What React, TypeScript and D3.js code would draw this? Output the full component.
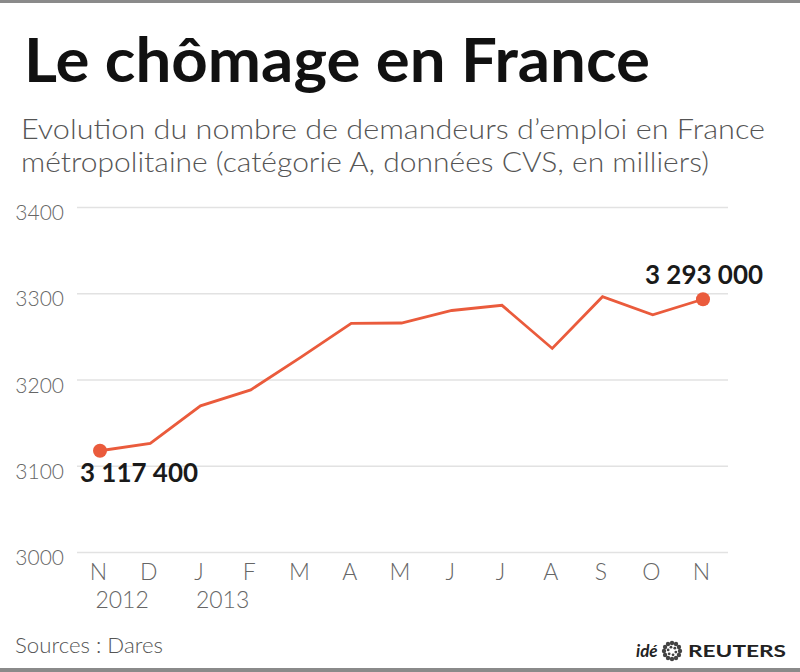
import React, { useEffect, useRef } from 'react';
import * as d3 from 'd3';

// Demandeurs d'emploi, catégorie A, France métropolitaine (milliers, CVS)
const periods = ['2012-11', '2012-12', '2013-01', '2013-02', '2013-03', '2013-04', '2013-05',
    '2013-06', '2013-07', '2013-08', '2013-09', '2013-10', '2013-11'];
const monthLabels = ['N', 'D', 'J', 'F', 'M', 'A', 'M', 'J', 'J', 'A', 'S', 'O', 'N'];
const values = [3117.4, 3126, 3169.5, 3188, 3226, 3265, 3265.5, 3280, 3286, 3236, 3296, 3275, 3293];
const yTicks = [3000, 3100, 3200, 3300, 3400];
const yearLabels = [
    { label: '2012', from: '2012-11', to: '2012-12' },
    { label: '2013', from: '2013-01', to: '2013-02' },
];
const firstLabel = '3 117 400';
const lastLabel = '3 293 000';

const font = "Lato, 'Open Sans', sans-serif";
const orange = '#ea5b3c';

const App: React.FC = () => {
    const svgRef = useRef<SVGSVGElement>(null);
    const width = 800;
    const height = 672;

    useEffect(() => {
        if (!svgRef.current) return;
        const svg = d3.select(svgRef.current);
        svg.selectAll('*').remove();

        const gridLeft = 77;
        const gridRight = 728;

        const x = d3.scalePoint<string>()
            .domain(periods)
            .range([100, 703]);

        const y = d3.scaleLinear()
            .domain([3000, 3400])
            .range([552, 207]);

        // frame lines
        svg.append('rect').attr('x', 0).attr('y', 0).attr('width', width).attr('height', 3).attr('fill', '#8a8a8a');
        svg.append('rect').attr('x', 0).attr('y', 668).attr('width', width).attr('height', 4).attr('fill', '#8a8a8a');

        // title & subtitle
        svg.append('text')
            .attr('x', 24).attr('y', 82)
            .attr('font-family', font).attr('font-weight', 700).attr('font-size', 62)
            .attr('fill', '#111')
            .attr('textLength', 626).attr('lengthAdjust', 'spacingAndGlyphs')
            .text('Le chômage en France');

        svg.append('text')
            .attr('x', 21).attr('y', 139)
            .attr('font-family', font).attr('font-weight', 300).attr('font-size', 28)
            .attr('fill', '#555')
            .attr('textLength', 744).attr('lengthAdjust', 'spacingAndGlyphs')
            .text('Evolution du nombre de demandeurs d’emploi en France');

        svg.append('text')
            .attr('x', 21).attr('y', 172)
            .attr('font-family', font).attr('font-weight', 300).attr('font-size', 28)
            .attr('fill', '#555')
            .attr('textLength', 688).attr('lengthAdjust', 'spacingAndGlyphs')
            .text('métropolitaine (catégorie A, données CVS, en milliers)');

        // y grid + labels
        const yAxis = svg.append('g')
            .attr('transform', `translate(${gridLeft},0)`)
            .call(d3.axisLeft(y)
                .tickValues(yTicks)
                .tickSize(-(gridRight - gridLeft))
                .tickPadding(13)
                .tickFormat(d3.format('d')));
        yAxis.select('.domain').remove();
        yAxis.selectAll('.tick line').attr('stroke', '#e2e2e2').attr('stroke-width', 1.5);
        yAxis.selectAll('.tick text')
            .attr('font-family', font).attr('font-weight', 300).attr('font-size', 21)
            .attr('fill', '#666')
            .attr('dy', '0.6em');

        // x labels
        const xAxis = svg.append('g')
            .attr('transform', `translate(0,${y(3000)})`)
            .call(d3.axisBottom(x)
                .tickSize(0)
                .tickFormat((d, i) => monthLabels[i]));
        xAxis.select('.domain').remove();
        xAxis.selectAll('.tick text')
            .attr('font-family', font).attr('font-weight', 300).attr('font-size', 23)
            .attr('fill', '#666')
            .attr('y', 28).attr('dy', 0).attr('dx', -2);

        svg.append('g').selectAll('text')
            .data(yearLabels)
            .join('text')
            .attr('x', d => ((x(d.from) ?? 0) + (x(d.to) ?? 0)) / 2 - 3)
            .attr('y', 608)
            .attr('text-anchor', 'middle')
            .attr('font-family', font).attr('font-weight', 300).attr('font-size', 23)
            .attr('fill', '#666')
            .text(d => d.label);

        // line
        const line = d3.line<number>()
            .x((d, i) => x(periods[i]) ?? 0)
            .y(d => y(d));

        svg.append('path')
            .datum(values)
            .attr('fill', 'none')
            .attr('stroke', orange)
            .attr('stroke-width', 2.8)
            .attr('stroke-linejoin', 'miter')
            .attr('d', line);

        const ends = [0, values.length - 1];
        svg.append('g').selectAll('circle')
            .data(ends)
            .join('circle')
            .attr('cx', i => x(periods[i]) ?? 0)
            .attr('cy', i => y(values[i]))
            .attr('r', 7)
            .attr('fill', orange);

        svg.append('text')
            .attr('x', (x(periods[0]) ?? 0) - 20)
            .attr('y', y(values[0]) + 31)
            .attr('font-family', font).attr('font-weight', 700).attr('font-size', 26)
            .attr('fill', '#1a1a1a')
            .attr('textLength', 118).attr('lengthAdjust', 'spacingAndGlyphs')
            .text(firstLabel);

        svg.append('text')
            .attr('x', (x(periods[periods.length - 1]) ?? 0) - 58)
            .attr('y', y(values[values.length - 1]) - 15)
            .attr('font-family', font).attr('font-weight', 700).attr('font-size', 26)
            .attr('fill', '#1a1a1a')
            .attr('textLength', 118).attr('lengthAdjust', 'spacingAndGlyphs')
            .text(lastLabel);

        // footer
        svg.append('text')
            .attr('x', 15).attr('y', 653)
            .attr('font-family', font).attr('font-weight', 300).attr('font-size', 21)
            .attr('fill', '#555')
            .attr('textLength', 148).attr('lengthAdjust', 'spacingAndGlyphs')
            .text('Sources : Dares');

        const logo = svg.append('g');
        logo.append('text')
            .attr('x', 636).attr('y', 657)
            .attr('font-family', font).attr('font-weight', 700).attr('font-style', 'italic').attr('font-size', 17)
            .attr('fill', '#222')
            .text('idé');
        const cx = 672;
        const cy = 651;
        const ring = d3.range(0, 360, 30);
        logo.selectAll('circle.ring')
            .data(ring)
            .join('circle')
            .attr('class', 'ring')
            .attr('cx', a => cx + 8 * Math.cos((a * Math.PI) / 180))
            .attr('cy', a => cy + 8 * Math.sin((a * Math.PI) / 180))
            .attr('r', 2.2)
            .attr('fill', '#444');
        logo.selectAll('circle.inner')
            .data(ring.filter((a, i) => i % 2 === 0))
            .join('circle')
            .attr('class', 'inner')
            .attr('cx', a => cx + 4 * Math.cos(((a + 15) * Math.PI) / 180))
            .attr('cy', a => cy + 4 * Math.sin(((a + 15) * Math.PI) / 180))
            .attr('r', 1.4)
            .attr('fill', '#444');
        logo.append('text')
            .attr('x', 688).attr('y', 657)
            .attr('font-family', font).attr('font-weight', 700).attr('font-size', 17)
            .attr('fill', '#222')
            .attr('textLength', 98).attr('lengthAdjust', 'spacingAndGlyphs')
            .text('REUTERS');
    }, []);

    return (
        <svg ref={svgRef} width={width} height={height}
             style={{ position: 'absolute', left: 0, top: 0, background: '#fff' }}></svg>
    );
};

export default App;
